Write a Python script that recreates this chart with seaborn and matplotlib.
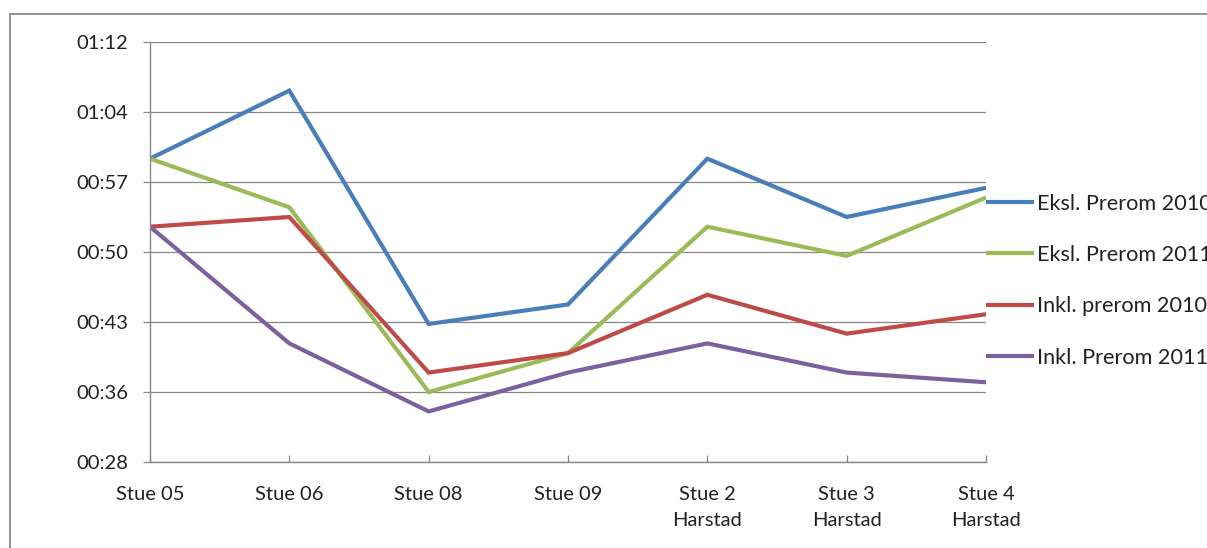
import math
import matplotlib
matplotlib.use("Agg")
import matplotlib.pyplot as plt
from matplotlib.patches import Rectangle
from matplotlib.ticker import FuncFormatter, FixedLocator
import pandas as pd
import seaborn as sns

# Operating rooms (x categories)
stuer = ["Stue 05", "Stue 06", "Stue 08", "Stue 09",
         "Stue 2\nHarstad", "Stue 3\nHarstad", "Stue 4\nHarstad"]

# Durations in minutes
eksl_2010 = [60, 67, 43, 45, 60, 54, 57]
eksl_2011 = [60, 55, 36, 40, 53, 50, 56]
inkl_2010 = [53, 54, 38, 40, 46, 42, 44]
inkl_2011 = [53, 41, 34, 38, 41, 38, 37]

serier = ["Eksl. Prerom 2010", "Eksl. Prerom 2011",
          "Inkl. prerom 2010", "Inkl. Prerom 2011"]
farger = ["#4A7EBB", "#9BBB59", "#BE4B48", "#7D60A0"]

# Axis ticks every 0.005 day (7.2 min)
y_ticks = [28.8, 36.0, 43.2, 50.4, 57.6, 64.8, 72.0]

rows = []
for navn, verdier in zip(serier, [eksl_2010, eksl_2011, inkl_2010, inkl_2011]):
    for s, v in zip(stuer, verdier):
        rows.append({"stue": s, "minutter": v, "serie": navn})
df = pd.DataFrame(rows)

sns.set_style("white")
plt.rcParams["font.family"] = ["Lato", "DejaVu Sans"]

W, H = 1207, 548
fig = plt.figure(figsize=(W / 100, H / 100), dpi=100)
ax = fig.add_axes([150 / W, 1 - 462 / H, (986 - 150) / W, 420 / H])

grey = "#878787"
ax.set_axisbelow(True)
ax.yaxis.grid(True, color=grey, linewidth=0.9)
ax.xaxis.grid(False)

sns.lineplot(data=df, x="stue", y="minutter", hue="serie", hue_order=serier,
             palette=farger, linewidth=3.0, sort=False, ax=ax,
             solid_joinstyle="miter", solid_capstyle="butt")

ax.set_xlim(0, len(stuer) - 1)
ax.set_ylim(y_ticks[0], y_ticks[-1])
ax.yaxis.set_major_locator(FixedLocator(y_ticks))


def hhmm(v, _):
    m = math.floor(round(v, 4))
    return f"{m // 60:02d}:{m % 60:02d}"


ax.yaxis.set_major_formatter(FuncFormatter(hhmm))
ax.set_xticks(range(len(stuer)))
ax.set_xticklabels(stuer, linespacing=1.7)
ax.set_xlabel("")
ax.set_ylabel("")

for side in ("top", "right"):
    ax.spines[side].set_visible(False)
for side in ("left", "bottom"):
    ax.spines[side].set_color(grey)
    ax.spines[side].set_linewidth(1.0)

ax.tick_params(axis="y", length=5, width=0.9, color=grey, pad=10.5,
               labelsize=14.5, labelcolor="#222222", left=True)
ax.tick_params(axis="x", direction="in", length=5, width=0.9, color=grey,
               pad=17, labelsize=14.5, labelcolor="#222222", bottom=True)

leg = ax.legend(loc="upper left", bbox_to_anchor=(1.0, 0.639), frameon=False,
                fontsize=15.6, borderaxespad=0, borderpad=0,
                handlelength=2.2, handletextpad=0.15, labelspacing=1.45)
for t in leg.get_texts():
    t.set_color("#222222")
for h in leg.get_lines():
    h.set_linewidth(3.0)

# Outer chart frame
fig.patches.append(Rectangle((10 / W, -0.2), 1.5, 1.2 - 14 / H,
                             transform=fig.transFigure, fill=False,
                             edgecolor="#8a8a8a", linewidth=1.3))

fig.savefig("out.png", dpi=100)
